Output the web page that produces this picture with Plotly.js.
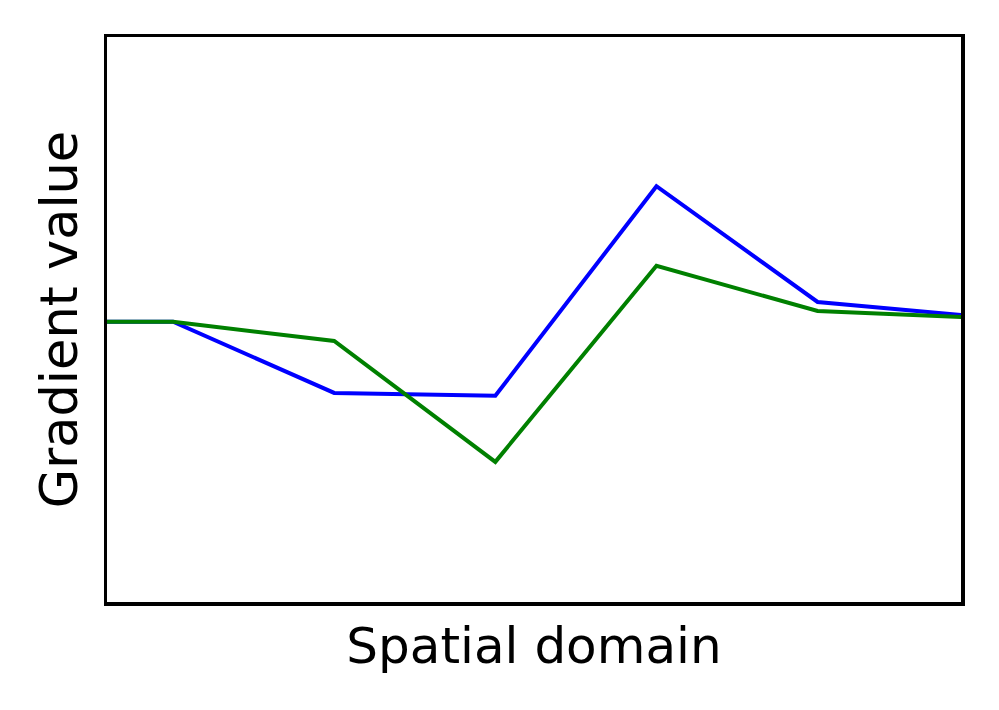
<!DOCTYPE html>
<html>
<head>
<meta charset="utf-8">
<script src="https://cdn.plot.ly/plotly-3.0.1.min.js"></script>
<style>html,body{margin:0;padding:0;background:#fff;}</style>
</head>
<body>
<div id="chart" style="width:999px;height:710px;"></div>
<script>
const xPositions = [-1, 0, 1, 2, 3, 4, 5];
const blueValues = [0.496, 0.496, 0.370, 0.365, 0.736, 0.531, 0.505];
const greenValues = [0.496, 0.496, 0.462, 0.248, 0.595, 0.515, 0.503];
const xTitle = "Spatial domain";
const yTitle = "Gradient value";

const traces = [
  {x: xPositions, y: blueValues, mode: "lines", line: {color: "#0000ff", width: 4}, showlegend: false, hoverinfo: "skip"},
  {x: xPositions, y: greenValues, mode: "lines", line: {color: "#008000", width: 4}, showlegend: false, hoverinfo: "skip"}
];

const axisBase = {
  showgrid: false, zeroline: false, showticklabels: false, ticks: "",
  showline: true, mirror: true, linecolor: "#000", linewidth: 3.5
};

const layout = {
  width: 999, height: 710,
  margin: {l: 107, r: 38, t: 37, b: 108},
  paper_bgcolor: "#fff", plot_bgcolor: "#fff",
  font: {family: "DejaVu Sans", color: "#000"},
  xaxis: Object.assign({}, axisBase, {range: [-0.41, 4.89], title: {text: xTitle, font: {size: 50}, standoff: 24}}),
  yaxis: Object.assign({}, axisBase, {range: [0, 1], title: {text: yTitle, font: {size: 51}, standoff: 10}})
};

Plotly.newPlot("chart", traces, layout, {staticPlot: true, displayModeBar: false});
</script>
</body>
</html>
